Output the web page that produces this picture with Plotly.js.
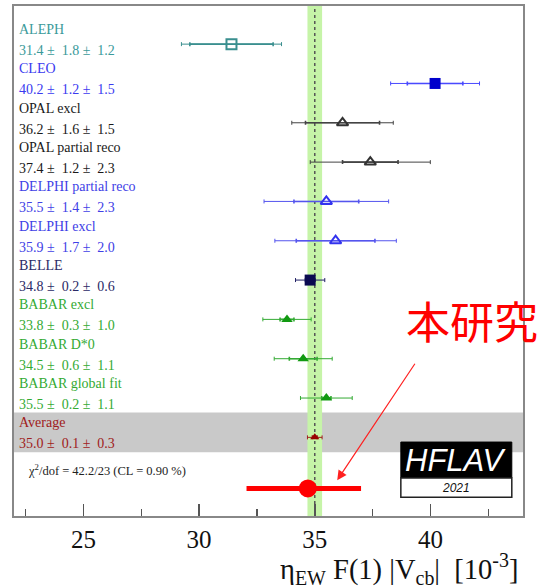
<!DOCTYPE html>
<html><head><meta charset="utf-8">
<script src="https://cdn.plot.ly/plotly-3.0.1.min.js"></script>
<style>html,body{margin:0;padding:0;background:#fff}#c{width:543px;height:588px}</style>
</head><body><div id="c"></div>
<script>
// ---- data ----
const names = ['ALEPH','CLEO','OPAL excl','OPAL partial reco','DELPHI partial reco','DELPHI excl','BELLE','BABAR excl','BABAR D*0','BABAR global fit','Average'];
const values = [31.4,40.2,36.2,37.4,35.5,35.9,34.8,33.8,34.5,35.5,35.0];
const statErr = [1.8,1.2,1.6,1.2,1.4,1.7,0.2,0.3,0.6,0.2,0.1];
const systErr = [1.2,1.5,1.5,2.3,2.3,2.0,0.6,1.0,1.1,1.1,0.3];
const thisValue = [34.7];
const thisErrMinus = [2.65];
const thisErrPlus = [2.3];
const tickVals = [25,30,35,40];
const chi2Text = 'χ<sup>2</sup>/dof = 42.2/23 (CL = 0.90 %)';

// ---- styles ----
const textCol = ['#3a9a9a','#3a3af0','#1a1a1a','#1a1a1a','#4040e6','#4040e6','#2a2a66','#33aa33','#33aa33','#33aa33','#a02020'];
const lineCol = ['#3a8f8f','#4a4aff','#444444','#444444','#5555ee','#5555ee','#222266','#33aa33','#33aa33','#33aa33','#a02020'];
const markCol = ['#3a8f8f','#0000cc','#333333','#333333','#3333ee','#3333ee','#0a0a50','#119911','#119911','#119911','#990000'];
const symbols = ['square-open','square','triangle-up-open','triangle-up-open','triangle-up-open','triangle-up-open','square','triangle-up','triangle-up','triangle-up','triangle-up'];
const msize = [10,11,10,10,10,10,11,10,10,10,8];

const nb = '\u00a0';
const traces = [];
const annotations = [];
for (let i = 0; i < names.length; i++) {
  const tot = Math.sqrt(statErr[i]*statErr[i] + systErr[i]*systErr[i]);
  traces.push({x:[values[i]], y:[i], type:'scatter', mode:'markers', marker:{size:0.1,color:lineCol[i]},
    error_x:{type:'data', array:[tot], visible:true, color:lineCol[i], thickness:1, width:2}, hoverinfo:'skip', showlegend:false});
  traces.push({x:[values[i]], y:[i], type:'scatter', mode:'markers', marker:{size:0.1,color:lineCol[i]},
    error_x:{type:'data', array:[statErr[i]], visible:true, color:lineCol[i], thickness:1.6, width:2}, hoverinfo:'skip', showlegend:false});
  traces.push({x:[values[i]], y:[i], type:'scatter', mode:'markers',
    marker:{symbol:symbols[i], size:msize[i], color:markCol[i],
      line:{width: symbols[i].indexOf('open')>=0 ? 2 : 0, color:markCol[i]}},
    showlegend:false});
  annotations.push({xref:'x', yref:'y', x:22.12, y:i-0.37, text:names[i], showarrow:false, xanchor:'left', yanchor:'middle',
    font:{family:'Liberation Serif', size:14, color:textCol[i]}});
  annotations.push({xref:'x', yref:'y', x:22.12, y:i+0.16,
    text: values[i].toFixed(1)+' ±'+nb+nb+statErr[i].toFixed(1)+' ±'+nb+nb+systErr[i].toFixed(1),
    showarrow:false, xanchor:'left', yanchor:'middle', font:{family:'Liberation Serif', size:14, color:textCol[i]}});
}
// this study
traces.push({x:thisValue, y:[11.3], type:'scatter', mode:'markers',
  marker:{symbol:'circle', size:18, color:'#ff0000'},
  error_x:{type:'data', array:thisErrPlus, arrayminus:thisErrMinus, visible:true, color:'#ff0000', thickness:5, width:0},
  showlegend:false});

annotations.push({xref:'x', yref:'y', x:22.5, y:10.82, text:chi2Text, showarrow:false, xanchor:'left', yanchor:'middle',
  font:{family:'Liberation Serif', size:12.5, color:'#222'}});
annotations.push({xref:'paper', yref:'paper', x:0.995, y:-0.104, xanchor:'right', yanchor:'middle', showarrow:false,
  text:'η<sub>EW</sub> F(1) |V<sub>cb</sub>|  [10<sup>-3</sup>]', font:{family:'Liberation Serif', size:28.5, color:'#111'}});
annotations.push({xref:'paper', yref:'y', x:0.9, y:7.02, xanchor:'center', yanchor:'middle', showarrow:false,
  text:'本研究', font:{family:'Noto Sans CJK JP', size:44, color:'#ff0000'}});
annotations.push({xref:'x', yref:'y', axref:'x', ayref:'y', x:35.97, y:11.09, ax:39.37, ay:8.09, text:'', showarrow:true,
  arrowcolor:'#ff2020', arrowwidth:1.2, arrowhead:2, arrowsize:1.6});
// HFLAV logo
annotations.push({xref:'paper', yref:'paper', x:0.869, y:0.109, xanchor:'center', yanchor:'middle', showarrow:false,
  text:'<i>HFLAV</i>', font:{family:'Liberation Sans', size:31, color:'#ffffff'}});
annotations.push({xref:'paper', yref:'paper', x:0.869, y:0.055, xanchor:'center', yanchor:'middle', showarrow:false,
  text:'<i>2021</i>', font:{family:'Liberation Sans', size:12, color:'#111'}});

const avgTot = Math.sqrt(statErr[10]**2 + systErr[10]**2);
const shapes = [
  {type:'rect', xref:'paper', yref:'y', x0:0, x1:1, y0:9.37, y1:10.38, fillcolor:'#c9c9c9', line:{width:0}, layer:'below'},
  {type:'rect', xref:'x', yref:'paper', x0:values[10]-avgTot, x1:values[10]+avgTot, y0:0, y1:1, fillcolor:'#c6f4a8', line:{width:0}, layer:'below'},
  {type:'line', xref:'x', yref:'paper', x0:values[10], x1:values[10], y0:0, y1:1, line:{color:'#555', width:1.5, dash:'dot'}, layer:'below'},
  {type:'rect', xref:'paper', yref:'paper', x0:0.760, x1:0.978, y0:0.0745, y1:0.145, fillcolor:'#000', line:{color:'#000', width:1}},
  {type:'rect', xref:'paper', yref:'paper', x0:0.760, x1:0.978, y0:0.037, y1:0.0745, fillcolor:'#fff', line:{color:'#222', width:1.5}}
];

const layout = {
  width:543, height:588,
  margin:{l:14, r:20, t:6, b:72},
  paper_bgcolor:'#fff', plot_bgcolor:'#fff',
  showlegend:false,
  xaxis:{range:[22,44], tickvals:tickVals, ticks:'inside', ticklen:12, tickwidth:1.5, tickcolor:'#555',
    minor:{dtick:2.5, tick0:22.5, ticks:'inside', ticklen:7, tickwidth:1.2, tickcolor:'#555'},
    showgrid:false, zeroline:false, showline:true, mirror:true, linecolor:'#888', linewidth:2,
    tickfont:{family:'Liberation Serif', size:25, color:'#111'}},
  yaxis:{range:[12.0,-0.97], showticklabels:false, ticks:'', showgrid:false, zeroline:false,
    showline:true, mirror:true, linecolor:'#888', linewidth:2},
  shapes:shapes, annotations:annotations
};
Plotly.newPlot('c', traces, layout, {displayModeBar:false, staticPlot:true});
</script></body></html>
